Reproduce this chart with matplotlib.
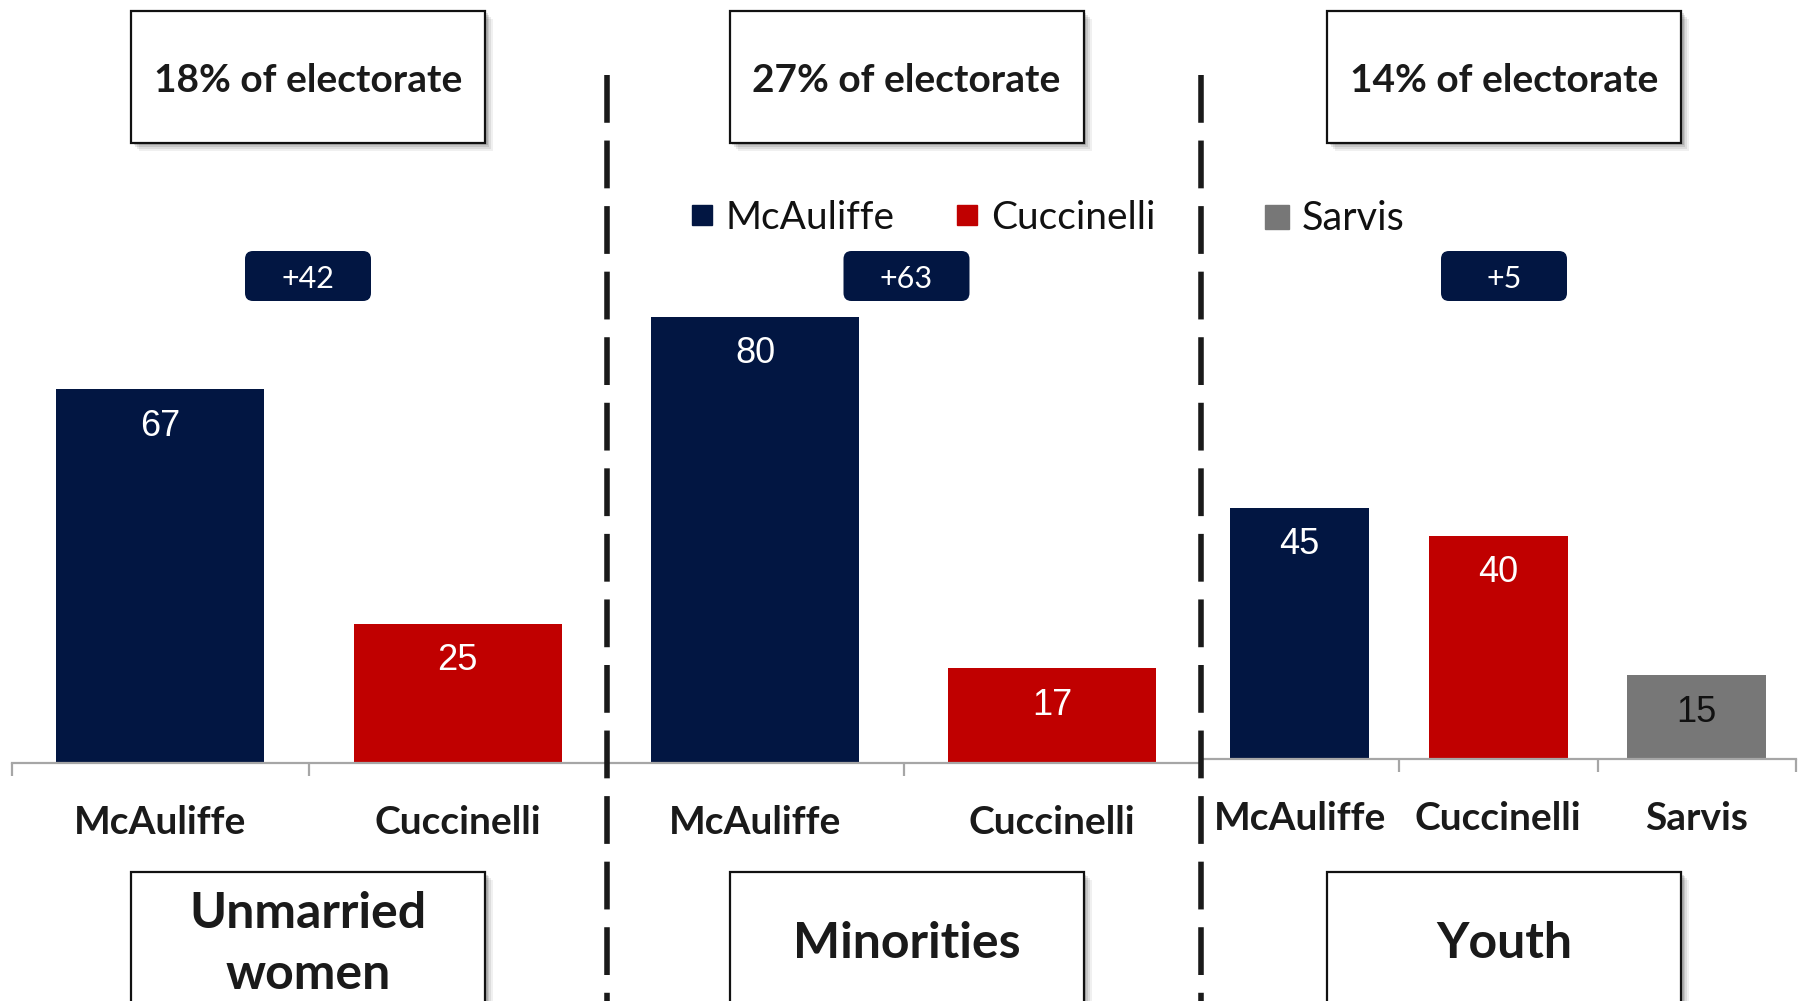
import matplotlib
matplotlib.use("Agg")

import numpy as np
import matplotlib.pyplot as plt
from matplotlib.patches import Rectangle, FancyBboxPatch
from matplotlib.lines import Line2D

# ---- data ----
groups = ["Unmarried\nwomen", "Minorities", "Youth"]
shares = ["18% of electorate", "27% of electorate", "14% of electorate"]
candidates = [
    ["McAuliffe", "Cuccinelli"],
    ["McAuliffe", "Cuccinelli"],
    ["McAuliffe", "Cuccinelli", "Sarvis"],
]
votes = [[67, 25], [80, 17], [45, 40, 15]]
margins = ["+42", "+63", "+5"]

NAVY = "#021642"
RED = "#C00000"
GRAY = "#777777"
TXT = "#1a1a1a"
cand_color = {"McAuliffe": NAVY, "Cuccinelli": RED, "Sarvis": GRAY}
val_color = {"McAuliffe": "white", "Cuccinelli": "white", "Sarvis": "#111111"}

CAL = ["Lato", "DejaVu Sans"]
ARIAL = ["Liberation Sans", "DejaVu Sans"]

W, H = 1805, 1001
fig = plt.figure(figsize=(W / 100, H / 100), dpi=100)
PT = 72 / 100  # px -> pt

# panel frames in px: left, right, baseline
panels = [(11.5, 606.5, 763), (606.5, 1200.5, 763), (1200.5, 1796, 759)]
YMAX = 100
PX_PER_UNIT = 5.58

axes = []
for cands, vals, (l, r, base) in zip(candidates, votes, panels):
    top = base - YMAX * PX_PER_UNIT
    ax = fig.add_axes([l / W, 1 - base / H, (r - l) / W, (base - top) / H])
    ax.patch.set_alpha(0)
    x = np.arange(len(cands))
    ax.bar(x, vals, width=0.7, color=[cand_color[c] for c in cands], zorder=2)
    ax.set_xlim(-0.5, len(cands) - 0.5)
    ax.set_ylim(0, YMAX)
    for s in ("top", "right", "left"):
        ax.spines[s].set_visible(False)
    ax.spines["bottom"].set_color("#A6A6A6")
    ax.spines["bottom"].set_linewidth(1.6)
    ax.set_yticks([])
    ax.set_xticks(x)
    ax.set_xticklabels(cands, family=CAL, fontweight="bold", fontsize=28, color=TXT, va="center")
    ax.tick_params(axis="x", which="major", length=0, pad=60 * PT)
    ax.set_xticks(np.arange(len(cands) + 1) - 0.5, minor=True)
    ax.tick_params(axis="x", which="minor", length=13 * PT, width=1.6, color="#A6A6A6")
    for xi, v, c in zip(x, vals, cands):
        ax.annotate(str(v), (xi, v), xytext=(0, -37 * PT), textcoords="offset points",
                    ha="center", va="center", family=ARIAL, fontsize=26, color=val_color[c])
    axes.append(ax)

# ---- overlay in pixel coordinates ----
ov = fig.add_axes([0, 0, 1, 1], zorder=10)
ov.set_xlim(0, W)
ov.set_ylim(H, 0)
ov.axis("off")
ov.patch.set_alpha(0)


def shadow_box(cx, y0, y1, w):
    x0 = cx - w / 2
    for off, a in ((8, 0.06), (6, 0.08), (4, 0.10), (2.5, 0.12)):
        ov.add_patch(Rectangle((x0 + off, y0 + off), w, y1 - y0, facecolor="black",
                               edgecolor="none", alpha=a, zorder=1))
    ov.add_patch(Rectangle((x0, y0), w, y1 - y0, facecolor="white",
                           edgecolor="#111111", lw=1.6, zorder=2))


box_cx = [308, 906.5, 1504]
BOX_W = 354

# top share boxes
for cx, s in zip(box_cx, shares):
    shadow_box(cx, 10.7, 142.7, BOX_W)
    ov.text(cx, 80.5, s, ha="center", va="center", family=CAL, fontweight="bold",
            fontsize=28, color=TXT, zorder=3)

# bottom group boxes
for cx, g in zip(box_cx, groups):
    shadow_box(cx, 872, 1040, BOX_W)
    ov.text(cx, 944, g, ha="center", va="center", family=CAL, fontweight="bold",
            fontsize=36, color=TXT, zorder=3, linespacing=1.45)

# margin badges
for cx, m in zip(box_cx, margins):
    ov.add_patch(FancyBboxPatch((cx - 63, 251), 126, 50,
                                boxstyle="round,pad=0,rounding_size=8",
                                facecolor=NAVY, edgecolor="none", zorder=3))
    ov.text(cx, 279, m, ha="center", va="center", family=CAL, fontsize=22,
            color="white", zorder=4)

# dashed separators
for xs in (607, 1200.5):
    ov.add_line(Line2D([xs, xs], [75, H + 10], color="#1a1a1a", lw=4,
                       dashes=(8.6, 3.2), zorder=5))

# legends
leg_handles = [Line2D([], [], marker="s", ls="", color=cand_color[c], markersize=14.5, label=c)
               for c in ("McAuliffe", "Cuccinelli")]
leg1 = fig.legend(handles=leg_handles, loc="center left", bbox_to_anchor=(692 / W, 1 - 218 / H),
                  ncol=2, frameon=False, prop={"family": CAL, "size": 28},
                  handlelength=0.53, handletextpad=0.34, columnspacing=1.6,
                  borderpad=0, borderaxespad=0)
for t in leg1.get_texts():
    t.set_color("#111111")

sar = [Line2D([], [], marker="s", ls="", color=cand_color["Sarvis"], markersize=17, label="Sarvis")]
leg2 = fig.legend(handles=sar, loc="center left", bbox_to_anchor=(1265 / W, 1 - 219 / H),
                  frameon=False, prop={"family": CAL, "size": 28.5},
                  handlelength=0.62, handletextpad=0.3, borderpad=0, borderaxespad=0)
for t in leg2.get_texts():
    t.set_color("#111111")

fig.savefig("out.png", dpi=100)
